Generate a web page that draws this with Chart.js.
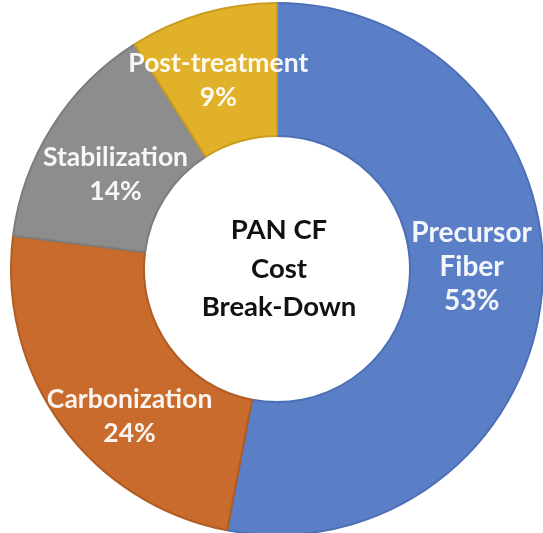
<!DOCTYPE html>
<html>
<head>
<meta charset="utf-8">
<script src="https://cdn.jsdelivr.net/npm/chart.js@4.4.1/dist/chart.umd.min.js"></script>
<style>
  html, body { margin: 0; padding: 0; background: #fff; overflow: hidden; width: 543px; height: 533px; }
  #wrap { position: absolute; left: 10px; top: 2px; width: 534px; height: 534px; }
</style>
</head>
<body>
<div id="wrap"><canvas id="c"></canvas></div>
<script>
// Cost shares of PAN-based carbon fibre production
const categories = ['Precursor Fiber', 'Carbonization', 'Stabilization', 'Post-treatment'];
const labelLines = [['Precursor', 'Fiber'], ['Carbonization'], ['Stabilization'], ['Post-treatment']];
const shares = [53, 24, 14, 9];
const centerTitle = ['PAN CF', 'Cost', 'Break-Down'];

const fills = ['#5b7fc7', '#c96b2c', '#8d8d8d', '#e2b12a'];
const edges = ['#4d6fb6', '#b05c24', '#7c7c7c', '#cc9c1e'];
// small shifts of each label block away from its slice centroid
const labelNudge = [[-4, -21], [14, 30], [7, 12], [-3, 3]];
const labelSize = [28, 26.5, 26.5, 26.5];

const sliceLabels = {
  id: 'sliceLabels',
  afterDatasetsDraw(chart) {
    const ctx = chart.ctx;
    const arcs = chart.getDatasetMeta(0).data;
    ctx.save();
    ctx.textAlign = 'center';
    ctx.textBaseline = 'middle';
    ctx.fillStyle = 'rgba(255,255,255,0.93)';
    const lh = 34;
    arcs.forEach((arc, i) => {
      ctx.font = 'bold ' + labelSize[i] + 'px Lato, "Open Sans", sans-serif';
      const p = arc.getCenterPoint();
      const lines = labelLines[i].concat([shares[i] + '%']);
      const cx = p.x + labelNudge[i][0];
      const cy = p.y + labelNudge[i][1];
      const top = cy - (lines.length - 1) * lh / 2;
      lines.forEach((t, k) => ctx.fillText(t, cx, top + k * lh));
    });
    // title in the hole
    const a = chart.chartArea;
    const mx = (a.left + a.right) / 2 + 2;
    const my = (a.top + a.bottom) / 2;
    ctx.font = 'bold 27.5px Lato, "Open Sans", sans-serif';
    ctx.fillStyle = '#111';
    const th = 38.5;
    const t0 = my - (centerTitle.length - 1) * th / 2;
    centerTitle.forEach((t, k) => ctx.fillText(t, mx, t0 + k * th));
    ctx.restore();
  }
};

new Chart(document.getElementById('c'), {
  type: 'doughnut',
  data: {
    labels: categories,
    datasets: [{
      data: shares,
      backgroundColor: fills,
      borderColor: edges,
      borderWidth: 2,
      hoverOffset: 0
    }]
  },
  options: {
    responsive: true,
    maintainAspectRatio: false,
    animation: false,
    cutout: '50%',
    layout: { padding: 0 },
    plugins: {
      legend: { display: false },
      tooltip: { enabled: false }
    }
  },
  plugins: [sliceLabels]
});
</script>
</body>
</html>
